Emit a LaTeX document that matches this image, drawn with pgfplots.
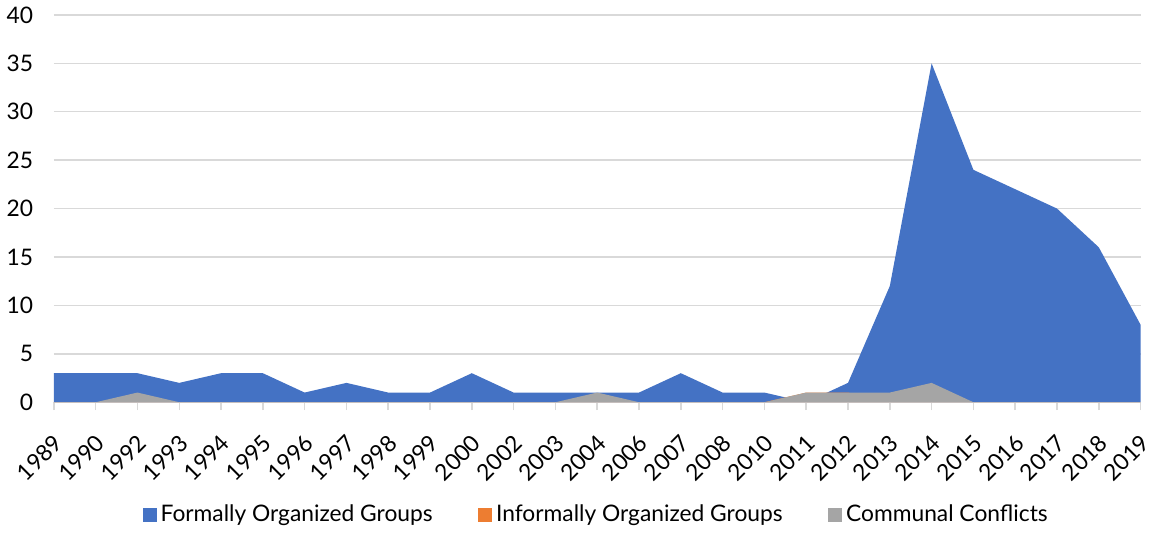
\documentclass[border=0pt]{standalone}
\usepackage{pgfplots}
\pgfplotsset{compat=1.18}
\usepackage{fontspec}
\setmainfont{Lato}
\definecolor{cblue}{HTML}{4472C4}
\definecolor{corange}{HTML}{ED7D31}
\definecolor{cgray}{HTML}{A5A5A5}
\definecolor{cgrid}{HTML}{D9D9D9}
\begin{document}
\begin{tikzpicture}
\begin{axis}[
  scale only axis,
  width=548.5bp, height=195.5bp,
  xmin=0, xmax=26, ymin=0, ymax=40,
  axis x line*=bottom,
  axis y line*=left,
  y axis line style={draw=none},
  x axis line style={draw=cgrid, line width=0.75bp, -},
  ytick={0,5,...,40},
  xtick={0,...,26},
  xticklabels={1989,1990,1992,1993,1994,1995,1996,1997,1998,1999,2000,2002,2003,2004,2006,2007,2008,2010,2011,2012,2013,2014,2015,2016,2017,2018,2019},
  xticklabel style={rotate=45, anchor=north east, inner sep=0pt, xshift=-8.5bp, yshift=-7.5bp, font=\fontsize{11.5bp}{13bp}\selectfont},
  yticklabel style={font=\fontsize{11.5bp}{13bp}\selectfont, xshift=-3bp},
  /pgf/number format/assume math mode=true,
  ymajorgrids, grid style={draw=cgrid, line width=0.75bp},
  ytick style={draw=none},
  xtick style={draw=cgrid, line width=0.75bp},
  tick align=outside, major tick length=4bp,
  legend style={at={(0.5,-0.29)}, anchor=center, draw=none, legend columns=3,
    font=\fontsize{11.5bp}{13bp}\selectfont,
    /tikz/every even column/.append style={column sep=21bp}},
  legend image code/.code={\fill[#1] (0bp,-3.5bp) rectangle (7bp,3.5bp);},
]
\addplot[fill=cblue, draw=none] coordinates {
(0,3)(1,3)(2,3)(3,2)(4,3)(5,3)(6,1)(7,2)(8,1)(9,1)(10,3)(11,1)(12,1)(13,1)(14,1)(15,3)(16,1)(17,1)(18,0)(19,2)(20,12)(21,35)(22,24)(23,22)(24,20)(25,16)(26,8)} \closedcycle;
\addlegendentry{Formally Organized Groups}
\addplot[fill=corange, draw=none] coordinates {
(0,0)(1,0)(2,0)(3,0)(4,0)(5,0)(6,0)(7,0)(8,0)(9,0)(10,0)(11,0)(12,0)(13,0)(14,0)(15,0)(16,0)(17,0)(18,1)(19,1)(20,0)(21,0)(22,0)(23,0)(24,0)(25,0)(26,0)} \closedcycle;
\addlegendentry{Informally Organized Groups}
\addplot[fill=cgray, draw=none] coordinates {
(0,0)(1,0)(2,1)(3,0)(4,0)(5,0)(6,0)(7,0)(8,0)(9,0)(10,0)(11,0)(12,0)(13,1)(14,0)(15,0)(16,0)(17,0)(18,1)(19,1)(20,1)(21,2)(22,0)(23,0)(24,0)(25,0)(26,0)} \closedcycle;
\addlegendentry{Communal Conflicts}
\end{axis}
\end{tikzpicture}
\end{document}
